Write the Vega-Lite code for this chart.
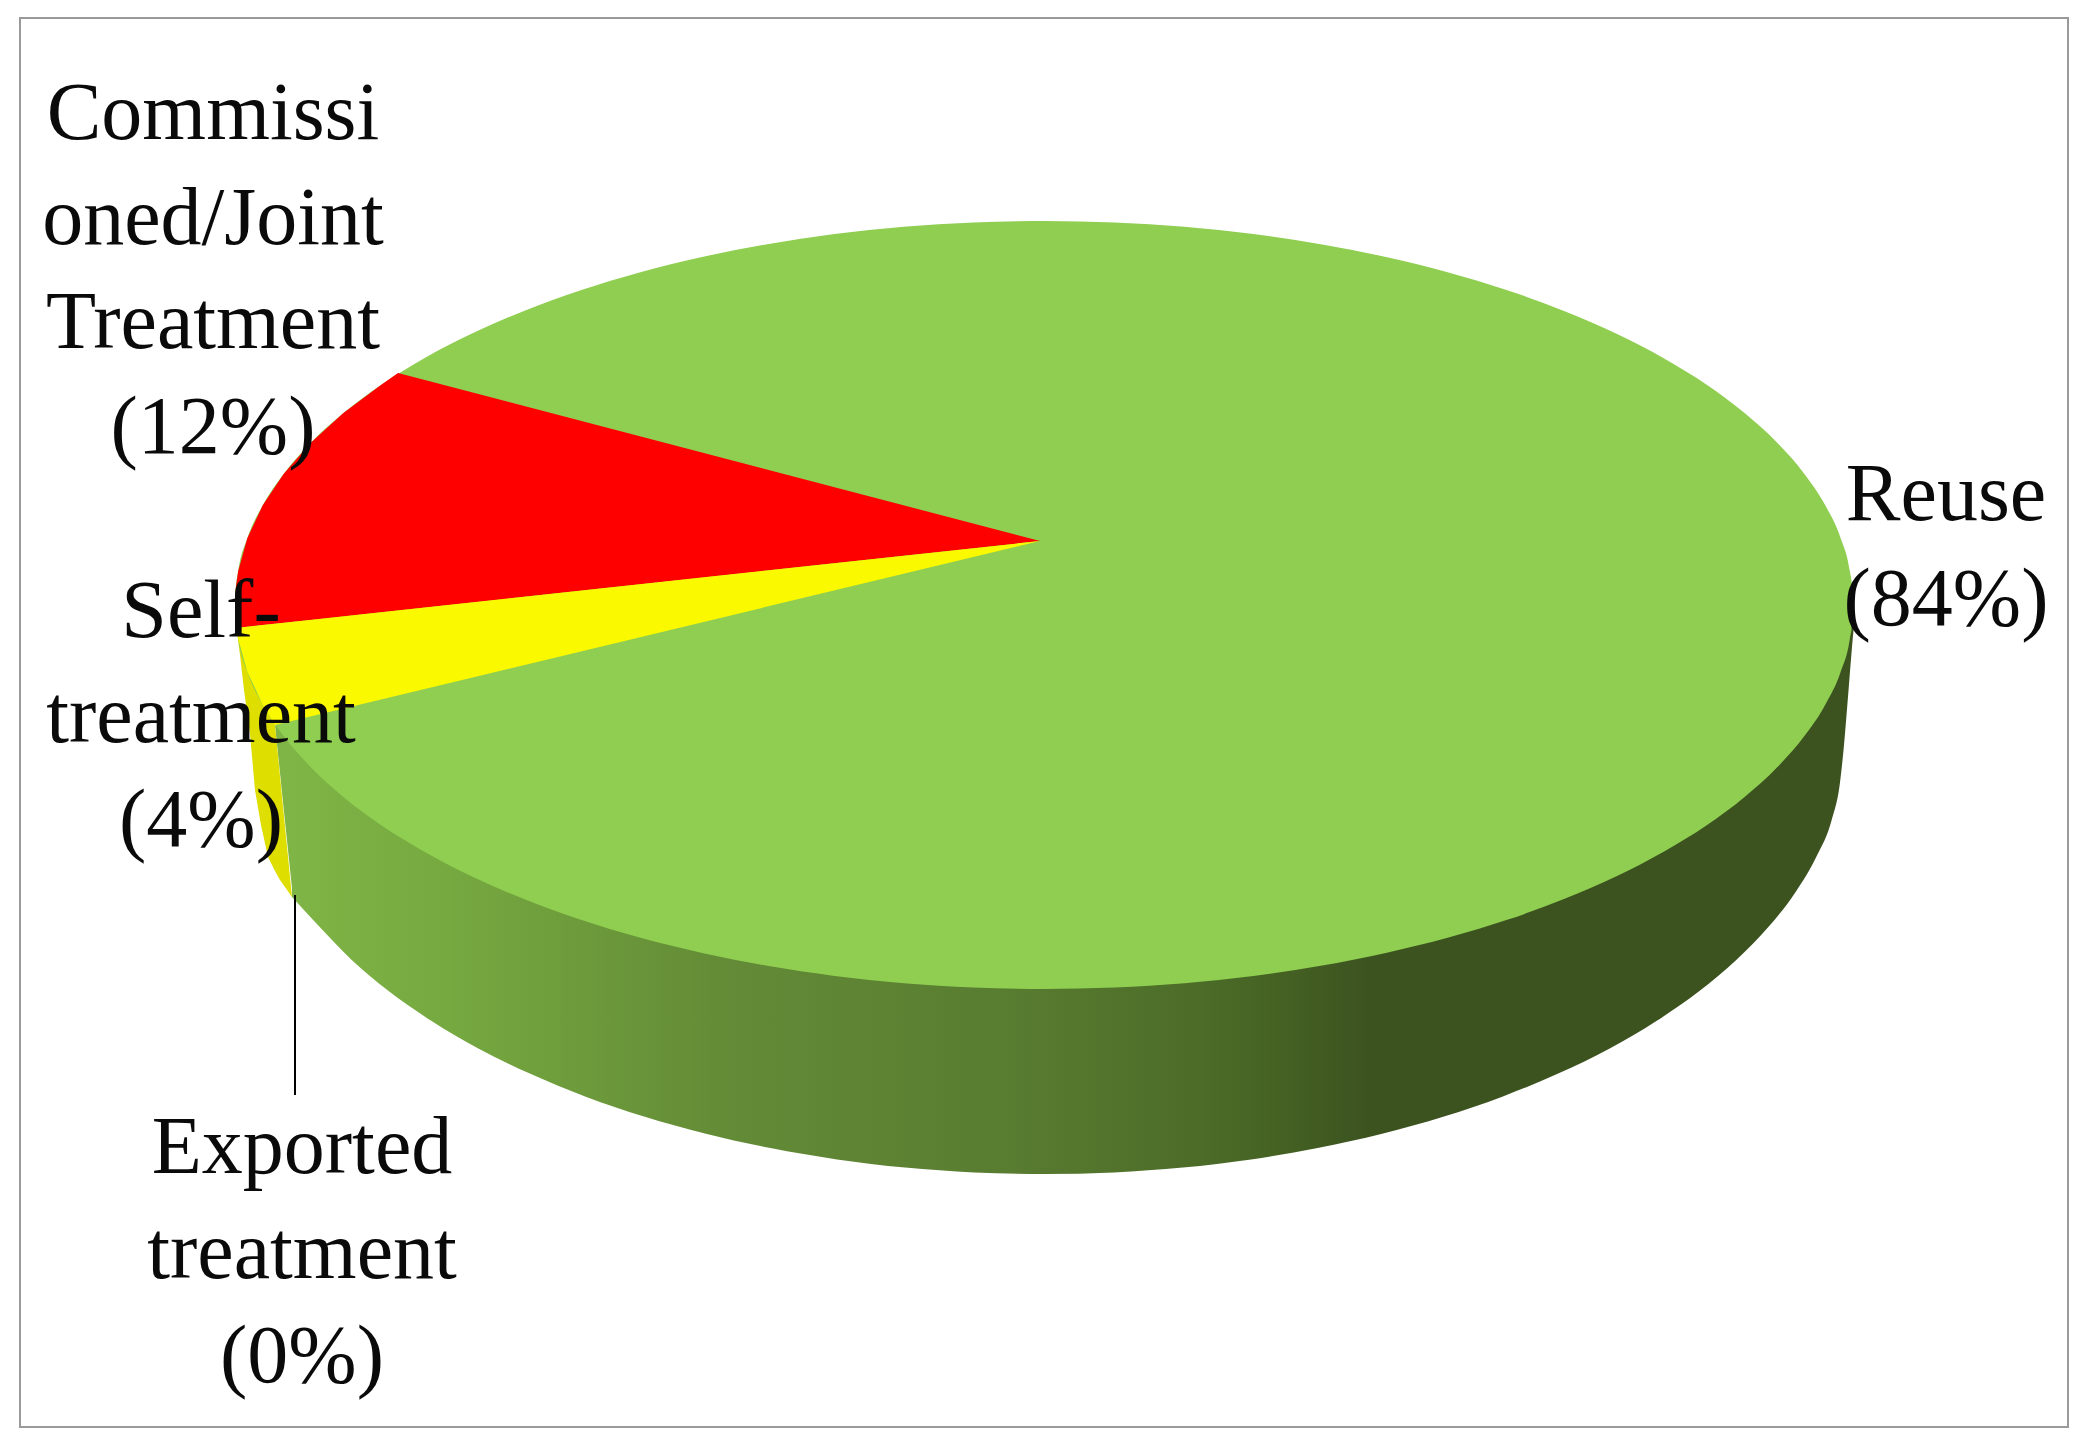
{
"$schema":"https://vega.github.io/schema/vega-lite/v6.json",
"width":2048,"height":1409,"autosize":"none",
"padding":{"left":20,"top":18,"right":17,"bottom":16},
"background":"white",
"config":{"view":{"stroke":"#9a9a9a","strokeWidth":2},"axis":{"domain":false}},
"datasets":{
"top":[{"x":235,"y":605,"y2":605},{"x":235.8,"y":588.3,"y2":621.7},{"x":238.1,"y":571.5,"y2":638.5},{"x":247.3,"y":538.3,"y2":671.7},{"x":262.6,"y":505.6,"y2":704.4},{"x":283.8,"y":473.7,"y2":736.3},{"x":310.8,"y":442.7,"y2":767.3},{"x":343.4,"y":413,"y2":797},{"x":381.3,"y":384.7,"y2":825.3},{"x":424.3,"y":358.2,"y2":851.8},{"x":472,"y":333.5,"y2":876.5},{"x":524,"y":310.9,"y2":899.1},{"x":580,"y":290.4,"y2":919.6},{"x":639.5,"y":272.4,"y2":937.6},{"x":702.1,"y":257,"y2":953},{"x":767.3,"y":244.2,"y2":965.8},{"x":834.6,"y":234.1,"y2":975.9},{"x":903.6,"y":226.8,"y2":983.2},{"x":973.5,"y":222.5,"y2":987.5},{"x":1044,"y":221,"y2":989},{"x":1114.5,"y":222.5,"y2":987.5},{"x":1184.4,"y":226.8,"y2":983.2},{"x":1253.4,"y":234.1,"y2":975.9},{"x":1320.7,"y":244.2,"y2":965.8},{"x":1385.9,"y":257,"y2":953},{"x":1448.5,"y":272.4,"y2":937.6},{"x":1508,"y":290.4,"y2":919.6},{"x":1564,"y":310.9,"y2":899.1},{"x":1616,"y":333.5,"y2":876.5},{"x":1663.7,"y":358.2,"y2":851.8},{"x":1706.7,"y":384.7,"y2":825.3},{"x":1744.6,"y":413,"y2":797},{"x":1777.2,"y":442.7,"y2":767.3},{"x":1804.2,"y":473.7,"y2":736.3},{"x":1825.4,"y":505.6,"y2":704.4},{"x":1840.7,"y":538.3,"y2":671.7},{"x":1849.9,"y":571.5,"y2":638.5},{"x":1852.2,"y":588.3,"y2":621.7},{"x":1853,"y":605,"y2":605}],
"red":[{"x":235,"y":605,"y2":628},{"x":235.8,"y":588.3,"y2":628},{"x":238.1,"y":571.5,"y2":627.8},{"x":247.3,"y":538.3,"y2":626.8},{"x":262.6,"y":505.6,"y2":625.1},{"x":283.8,"y":473.7,"y2":622.8},{"x":310.8,"y":442.7,"y2":619.9},{"x":343.4,"y":413,"y2":616.4},{"x":381.3,"y":384.7,"y2":612.3},{"x":398,"y":373,"y2":610.5},{"x":1040,"y":541,"y2":541}],
"yellow":[{"x":236,"y":628,"y2":628},{"x":238.1,"y":627.8,"y2":638.5},{"x":247.3,"y":626.8,"y2":671.7},{"x":262.6,"y":625.1,"y2":704.4},{"x":275,"y":623.8,"y2":725},{"x":1040,"y":541,"y2":541}],
"yellowWall":[{"x":237,"y":628,"y2":632},{"x":240,"y":630,"y2":655},{"x":244,"y":650,"y2":690},{"x":250,"y":670,"y2":734},{"x":255,"y":680,"y2":790},{"x":261,"y":690,"y2":825},{"x":268,"y":710,"y2":857},{"x":275,"y":725,"y2":871},{"x":280,"y":776,"y2":880},{"x":292,"y":897,"y2":897}],
"wallStart":[{"x":275,"y":725,"y2":725},{"x":293,"y":735,"y2":898}],
"wall":[{"x":292,"y":700,"y2":897},{"x":319,"y":605,"y2":926.3},{"x":351.2,"y":605,"y2":959.5},{"x":388.6,"y":605,"y2":991.1},{"x":431.2,"y":605,"y2":1020.8},{"x":478.3,"y":605,"y2":1048.4},{"x":529.8,"y":605,"y2":1073.6},{"x":585.1,"y":605,"y2":1096.4},{"x":644,"y":605,"y2":1116.5},{"x":705.9,"y":605,"y2":1133.8},{"x":770.4,"y":605,"y2":1148.1},{"x":837,"y":605,"y2":1159.4},{"x":905.1,"y":605,"y2":1167.5},{"x":974.2,"y":605,"y2":1172.4},{"x":1044,"y":605,"y2":1174},{"x":1113.8,"y":605,"y2":1172.4},{"x":1182.9,"y":605,"y2":1167.5},{"x":1251,"y":605,"y2":1159.4},{"x":1317.6,"y":605,"y2":1148.1},{"x":1382.1,"y":605,"y2":1133.8},{"x":1444,"y":605,"y2":1116.5},{"x":1502.9,"y":605,"y2":1096.4},{"x":1558.2,"y":605,"y2":1073.6},{"x":1609.7,"y":605,"y2":1048.4},{"x":1656.8,"y":605,"y2":1020.8},{"x":1699.4,"y":605,"y2":991.1},{"x":1736.8,"y":605,"y2":959.5},{"x":1769,"y":605,"y2":926.3},{"x":1795.8,"y":605,"y2":891.7},{"x":1816.7,"y":605,"y2":856},{"x":1831.8,"y":605,"y2":819.5},{"x":1840,"y":605,"y2":782.4},{"x":1844,"y":605,"y2":745},{"x":1847.5,"y":605,"y2":703},{"x":1852,"y":605,"y2":647},{"x":1854,"y":605,"y2":625}],
"leader":[{"x":295,"y":895,"y2":1095}],
"labels":[
{"x":213,"y":139,"label":"Commissi\noned/Joint\nTreatment\n(12%)"},
{"x":201,"y":637,"label":"Self-\ntreatment\n(4%)"},
{"x":302,"y":1173,"label":"Exported\ntreatment\n(0%)"},
{"x":1946,"y":520,"label":"Reuse\n(84%)"}]
},
"layer":[
{"data":{"name":"wallStart"},"mark":{"type":"area","orient":"vertical","fill":"#7FB446"},
"encoding":{"x":{"field":"x","type":"quantitative","scale":{"domain":[20,2068],"nice":false,"zero":false},"axis":null},"y":{"field":"y","type":"quantitative","scale":{"domain":[18,1427],"reverse":true,"nice":false,"zero":false},"axis":null},"y2":{"field":"y2"}}},
{"data":{"name":"wall"},"mark":{"type":"area","interpolate":"monotone","orient":"vertical","fill":{"gradient":"linear","x1":0,"y1":0,"x2":1,"y2":0,"stops":[{"offset":0,"color":"#7FB446"},{"offset":0.1,"color":"#76A940"},{"offset":0.27,"color":"#648C37"},{"offset":0.46,"color":"#587C30"},{"offset":0.58,"color":"#4C6C28"},{"offset":0.63,"color":"#456223"},{"offset":0.69,"color":"#3C5320"},{"offset":1,"color":"#3C5320"}]}},
"encoding":{"x":{"field":"x","type":"quantitative","scale":{"domain":[20,2068],"nice":false,"zero":false},"axis":null},"y":{"field":"y","type":"quantitative","scale":{"domain":[18,1427],"reverse":true,"nice":false,"zero":false},"axis":null},"y2":{"field":"y2"}}},
{"data":{"name":"yellowWall"},"mark":{"type":"area","orient":"vertical","fill":"#DEDE00"},
"encoding":{"x":{"field":"x","type":"quantitative","scale":{"domain":[20,2068],"nice":false,"zero":false},"axis":null},"y":{"field":"y","type":"quantitative","scale":{"domain":[18,1427],"reverse":true,"nice":false,"zero":false},"axis":null},"y2":{"field":"y2"}}},
{"data":{"name":"top"},"mark":{"type":"area","interpolate":"monotone","orient":"vertical","fill":"#8FCE50"},
"encoding":{"x":{"field":"x","type":"quantitative","scale":{"domain":[20,2068],"nice":false,"zero":false},"axis":null},"y":{"field":"y","type":"quantitative","scale":{"domain":[18,1427],"reverse":true,"nice":false,"zero":false},"axis":null},"y2":{"field":"y2"}}},
{"data":{"name":"red"},"mark":{"type":"area","orient":"vertical","fill":"#FF0000"},
"encoding":{"x":{"field":"x","type":"quantitative","scale":{"domain":[20,2068],"nice":false,"zero":false},"axis":null},"y":{"field":"y","type":"quantitative","scale":{"domain":[18,1427],"reverse":true,"nice":false,"zero":false},"axis":null},"y2":{"field":"y2"}}},
{"data":{"name":"yellow"},"mark":{"type":"area","orient":"vertical","fill":"#FBF900"},
"encoding":{"x":{"field":"x","type":"quantitative","scale":{"domain":[20,2068],"nice":false,"zero":false},"axis":null},"y":{"field":"y","type":"quantitative","scale":{"domain":[18,1427],"reverse":true,"nice":false,"zero":false},"axis":null},"y2":{"field":"y2"}}},
{"data":{"name":"leader"},"mark":{"type":"rule","color":"#000000","strokeWidth":2},
"encoding":{"x":{"field":"x","type":"quantitative","scale":{"domain":[20,2068],"nice":false,"zero":false},"axis":null},"y":{"field":"y","type":"quantitative","scale":{"domain":[18,1427],"reverse":true,"nice":false,"zero":false},"axis":null},"y2":{"field":"y2"}}},
{"data":{"name":"labels"},"mark":{"type":"text","font":"Liberation Serif","fontSize":82,"color":"#0a0a0a","align":"center","baseline":"alphabetic","lineBreak":"\n","lineHeight":104.5},
"encoding":{"x":{"field":"x","type":"quantitative","scale":{"domain":[20,2068],"nice":false,"zero":false},"axis":null},"y":{"field":"y","type":"quantitative","scale":{"domain":[18,1427],"reverse":true,"nice":false,"zero":false},"axis":null},"text":{"field":"label","type":"nominal"}}}
]
}
